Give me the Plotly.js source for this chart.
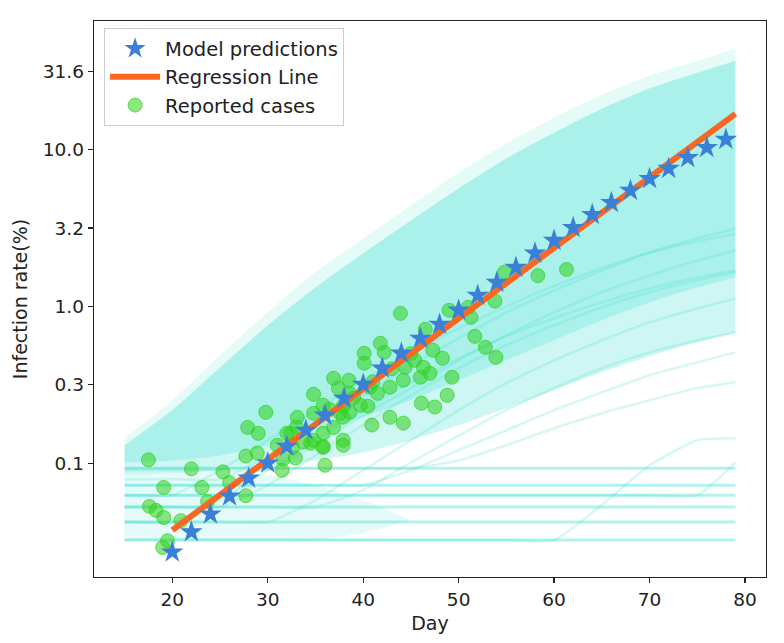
<!DOCTYPE html>
<html>
<head>
<meta charset="utf-8">
<script src="https://cdn.plot.ly/plotly-3.0.1.min.js"></script>
<style>
  html, body { margin:0; padding:0; background:#fff; }
  #grafica { width:784px; height:643px; }
</style>
</head>
<body>
<div id="grafica"></div>
<script>
// model predictions (stars)
const predDays = [20,22,24,26,28,30,32,34,36,38,40,42,44,46,48,50,52,54,56,58,60,62,64,66,68,70,72,74,76,78];
const predValues = [0.0271,0.0364,0.0473,0.0616,0.0802,0.100,0.128,0.162,0.202,0.259,0.318,0.403,0.502,0.625,0.768,0.944,1.175,1.42,1.77,2.18,2.63,3.18,3.85,4.59,5.48,6.53,7.57,8.89,10.3,11.6];

// regression line
const regDays = [20, 79];
const regValues = [0.0374, 16.9];

// reported cases
const caseDays = [17.5,22.0,25.3,27.7,28.9,27.9,29.0,19.1,23.1,17.6,18.3,19.1,27.7,23.7,20.9,19.5,19.0,
  31.5,36.0,37.9,37.9,35.8,32.9,40.9,44.2,32.0,32.6,33.7,34.8,43.9,41.8,42.2,40.1,40.1,36.9,34.8,
  38.5,37.4,38.6,40.7,41.5,42.8,44.2,46.0,45.4,44.4,46.3,47.3,47.0,48.3,48.8,46.1,47.5,42.8,39.7,
  40.5,37.9,37.6,36.9,37.9,38.6,29.8,33.1,34.8,35.8,32.4,35.8,34.5,35.8,31.6,46.5,49.0,51.0,51.3,
  53.8,54.8,58.3,61.3,51.7,52.8,53.9,49.3,36.5,39.0,41.0,43.0,45.0,33.0,31.0,26.0];
const caseValues = [0.105,0.092,0.088,0.111,0.116,0.169,0.155,0.070,0.070,0.053,0.050,0.045,0.062,0.057,0.043,0.032,0.029,
  0.090,0.097,0.140,0.130,0.126,0.108,0.175,0.180,0.155,0.126,0.136,0.140,0.902,0.581,0.509,0.502,0.434,0.348,0.275,
  0.338,0.301,0.279,0.305,0.279,0.305,0.338,0.353,0.453,0.409,0.409,0.525,0.374,0.467,0.271,0.241,0.228,0.196,0.234,
  0.231,0.231,0.208,0.169,0.196,0.211,0.211,0.196,0.208,0.234,0.155,0.155,0.134,0.128,0.106,0.714,0.944,0.986,0.851,
  1.08,1.65,1.57,1.72,0.644,0.548,0.473,0.353,0.22,0.26,0.33,0.40,0.50,0.17,0.13,0.075];

// simulated trajectories (envelopes of the dense fan + some single runs)
const simDays = [15,20,25,30,35,40,45,50,55,60,65,70,75,79];
const simTopFaint = [0.144,0.252,0.488,0.916,1.65,2.71,4.40,7.14,10.9,16.0,22.4,29.6,36.9,44.0];
const simTop = [0.130,0.218,0.408,0.757,1.32,2.18,3.53,5.65,8.77,12.8,18.2,24.5,30.9,36.9];
const simMid = [0.101,0.104,0.112,0.130,0.157,0.196,0.252,0.338,0.453,0.607,0.815,1.06,1.32,1.53];
const simLow = [0.0839,0.0863,0.0902,0.0957,0.104,0.117,0.140,0.175,0.224,0.292,0.380,0.481,0.590,0.682];
// early runs that stay flat for a while (hatched zone bottom left)
const hatchDays = [15,20,25,30,35,40,45];
const hatchTop = [0.0839,0.0863,0.0877,0.0839,0.0724,0.0581,0.0434];
const hatchBase = [0.0323,0.0323,0.0323,0.0323,0.0323,0.0360,0.0434];
const simRuns = [
  [0.079,0.079,0.079,0.112,0.175,0.271,0.421,0.625,0.916,1.26,1.69,2.21,2.71,3.14],
  [0.090,0.090,0.090,0.090,0.130,0.202,0.301,0.453,0.653,0.916,1.23,1.57,1.96,2.27],
  [0.0323,0.0323,0.0323,0.0323,0.0323,0.0323,0.0323,0.0323,0.0323,0.0323,0.054,0.097,0.140,0.144],
  [0.0625,0.0625,0.0625,0.0625,0.0625,0.0625,0.0625,0.0625,0.0625,0.0625,0.0625,0.0625,0.0625,0.101],
  [0.0724,0.0724,0.0724,0.0724,0.0724,0.0724,0.0902,0.121,0.162,0.218,0.283,0.364,0.440,0.509],
  [0.0929,0.0929,0.0929,0.0929,0.0929,0.0929,0.0929,0.104,0.130,0.167,0.208,0.252,0.301,0.328],
  [0.0421,0.0421,0.0421,0.0421,0.0581,0.0902,0.140,0.218,0.324,0.453,0.607,0.791,0.970,1.12],
  [0.0525,0.0525,0.0525,0.0725,0.112,0.175,0.271,0.403,0.565,0.757,0.986,1.23,1.47,1.65],
  [0.0625,0.0625,0.0902,0.140,0.218,0.338,0.509,0.724,1.00,1.35,1.75,2.20,2.60,2.90],
  [0.0525,0.0525,0.0525,0.0525,0.0525,0.0673,0.101,0.150,0.218,0.301,0.403,0.509,0.607,0.682],
  [0.0421,0.0421,0.0581,0.0902,0.140,0.218,0.328,0.464,0.647,0.839,1.06,1.30,1.53,1.69]
];
const flatLevels = [0.0323,0.0421,0.0525,0.0625,0.0724,0.0929];
const flatDays = [15, 79];

const turq = a => 'rgba(64,224,208,' + a + ')';
const font = 'DejaVu Sans, sans-serif';

let traces = [];

function band(x, y, fillColor, first){
    traces.push({
        x: x, y: y, mode:'lines',
        line:{width:0, shape:'spline', smoothing:0.7},
        fill: first ? 'none' : 'tonexty',
        fillcolor: fillColor,
        showlegend:false, hoverinfo:'skip'
    });
}
band(hatchDays, hatchBase, null, true);
band(hatchDays, hatchTop, turq(0.13), false);

band(simDays, simLow, null, true);
band(simDays, simMid, turq(0.26), false);
band(simDays, simTop, turq(0.45), false);
band(simDays, simTopFaint, turq(0.14), false);

flatLevels.forEach(v=>{
    traces.push({
        x: flatDays, y:[v, v], mode:'lines',
        line:{color:turq(0.4), width:3},
        showlegend:false, hoverinfo:'skip'
    });
});

simRuns.forEach(run=>{
    traces.push({
        x: simDays, y: run, mode:'lines',
        line:{color:turq(0.22), width:2.5, shape:'spline', smoothing:0.5},
        showlegend:false, hoverinfo:'skip'
    });
});

// legend shows traces reversed: stars, line, dots
traces.push({
    x: caseDays, y: caseValues,
    mode:'markers', name:'Reported cases',
    marker:{color:'rgba(50,210,30,0.55)', size:14,
        line:{color:'rgba(50,210,30,0.7)', width:1}}
});

traces.push({
    x: regDays, y: regValues,
    mode:'lines', name:'Regression Line',
    line:{color:'#f96723', width:6}
});

traces.push({
    x: predDays, y: predValues,
    mode:'markers', name:'Model predictions',
    marker:{symbol:'star', color:'#3a80d6', size:17, line:{width:0}}
});

const axisCommon = {
    showline:true, mirror:true, linecolor:'#222', linewidth:1.3,
    ticks:'outside', ticklen:5, tickwidth:1.2, tickcolor:'#222',
    showgrid:false, zeroline:false,
    tickfont:{family:font, size:18.5, color:'#222'}
};

const layout = {
    width:784, height:643,
    margin:{l:94, r:18, t:21, b:66},
    paper_bgcolor:'white', plot_bgcolor:'white',
    font:{family:font, color:'#222'},
    xaxis: Object.assign({}, axisCommon, {
        range:[11.8, 82.2],
        tickvals:[20,30,40,50,60,70,80],
        title:{text:'Day', font:{family:font, size:19, color:'#222'}, standoff:8}
    }),
    yaxis: Object.assign({}, axisCommon, {
        type:'log',
        range:[-1.726, 1.82],
        tickvals:[0.1,0.316,1,3.16,10,31.6],
        ticktext:['0.1','0.3','1.0','3.2','10.0','31.6'],
        title:{text:'Infection rate(%)', font:{family:font, size:19, color:'#222'}, standoff:10}
    }),
    legend:{
        x:0.015, y:0.987, xanchor:'left', yanchor:'top',
        traceorder:'reversed',
        bgcolor:'rgba(255,255,255,0.85)', bordercolor:'#cccccc', borderwidth:1,
        font:{family:font, size:19.5, color:'#222'},
        itemwidth:50, tracegroupgap:0
    },
    showlegend:true
};

Plotly.newPlot('grafica', traces, layout, {staticPlot:true});
</script>
</body>
</html>
